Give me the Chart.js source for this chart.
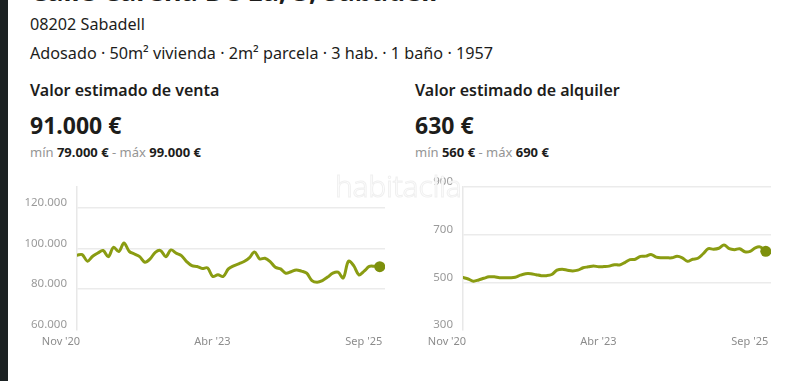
<!DOCTYPE html>
<html><head><meta charset="utf-8">
<script src="https://cdn.jsdelivr.net/npm/chart.js@4/dist/chart.umd.min.js"></script>
<style>
html,body{margin:0;padding:0;background:#fff;width:800px;height:381px;overflow:hidden;font-family:"Noto Sans",sans-serif;color:#1d1d1b;}
.abs{position:absolute;white-space:nowrap;}
#strip{position:absolute;left:0;top:0;width:8px;height:381px;background:#1c2223;}
.t1{font-size:16.2px;line-height:20px;}
.h{font-size:16px;font-weight:600;line-height:20px;}
.big{font-size:23px;font-weight:700;line-height:28px;}
.mm{font-size:13px;line-height:16px;color:#959595;}
.mm b{color:#1d1d1b;font-weight:700;}
#wm{position:absolute;left:335px;top:165px;font-size:30px;font-weight:300;color:#fff;-webkit-text-stroke:1px #f0f0f0;letter-spacing:-0.3px;z-index:5;pointer-events:none;}
canvas{position:absolute;}
</style></head><body>
<div id="strip"></div>
<div class="abs" style="left:30px;top:-24px;font-size:27px;font-weight:700;line-height:30px;">Calle Carena De La, 5, Sabadell</div>
<div class="abs t1" style="left:30px;top:14px;">08202 Sabadell</div>
<div class="abs t1" style="left:30px;top:43px;">Adosado · 50m² vivienda · 2m² parcela · 3 hab. · 1 baño · 1957</div>
<div class="abs h" style="left:30px;top:80px;">Valor estimado de venta</div>
<div class="abs big" style="left:30px;top:111px;">91.000 €</div>
<div class="abs mm" style="left:30px;top:144px;">mín <b>79.000 €</b> - máx <b>99.000 €</b></div>
<div class="abs h" style="left:415px;top:80px;">Valor estimado de alquiler</div>
<div class="abs big" style="left:415px;top:111px;">630 €</div>
<div class="abs mm" style="left:415px;top:144px;">mín <b>560 €</b> - máx <b>690 €</b></div>
<canvas id="c1" width="378" height="175" style="left:17px;top:175px;width:378px;height:175px;"></canvas>
<canvas id="c2" width="378" height="175" style="left:403px;top:175px;width:378px;height:175px;"></canvas>
<div id="wm">habitaclia</div>
<script>
// Monthly estimates, Nov 2020 .. Sep 2025 (59 months)
const saleValues = [96600,96900,93700,96100,97700,98900,95900,100500,98400,102600,98500,97200,95900,93200,94800,98000,98900,95900,99200,97600,96400,93500,91500,91100,90100,90400,86200,87000,86200,89900,91400,92400,93500,95300,98200,94800,95100,93500,90700,89900,87800,88500,89400,88800,87800,84200,83400,84200,85900,87800,88300,85500,93700,91500,87000,88800,91100,91200,91000];
const rentValues = [520,514,505,510,517,523,523,519,519,519,521,530,536,536,532,528,528,533,551,555,551,548,551,561,565,569,565,566,568,574,573,583,595,597,609,610,617,606,603,603,603,609,603,588,597,601,620,641,639,643,657,641,637,641,628,630,645,648,630];
const xTickLabels = ["Nov '20","Abr '23","Sep '25"];
const xTickIndex = [0,29,58];
const saleTicks = [60000,80000,100000,120000];
const rentTicks = [300,500,700,900];

const LINE = '#8a9c12';
const DOT = '#7d900c';
const fmt = v => v >= 1000 ? v.toLocaleString('de-DE') : String(v);

function makeChart(id, values, yTicks, yMin, yMax){
  const pts = values.map((v,i)=>({x:i,y:v}));
  const last = pts.length-1;
  return new Chart(document.getElementById(id), {
    type:'line',
    data:{datasets:[{data:pts,borderColor:LINE,borderWidth:3,tension:0.35,
      pointRadius:c=>c.dataIndex===last?5.5:0,pointHoverRadius:0,
      pointBackgroundColor:DOT,pointBorderColor:DOT,pointBorderWidth:0,fill:false,borderCapStyle:'round',borderJoinStyle:'round'}]},
    options:{
      responsive:false,animation:false,devicePixelRatio:1,
      layout:{padding:{top:12,right:10,left:0,bottom:0}},
      plugins:{legend:{display:false},tooltip:{enabled:false}},
      scales:{
        x:{type:'linear',min:0,max:59,
          afterBuildTicks:s=>{s.ticks=xTickIndex.map(v=>({value:v}));},
          afterFit:s=>{s.paddingLeft=0;s.paddingRight=0;s.height=20;},
          grid:{display:false,drawTicks:false},border:{display:false},
          ticks:{autoSkip:false,maxRotation:0,padding:5,labelOffset:-16,color:'#8c8c8c',
            font:{family:'"Noto Sans"',size:11},
            callback:(v)=>{const k=xTickIndex.indexOf(v);return k>=0?xTickLabels[k]:'';}}
        },
        y:{min:yMin,max:yMax,
          afterBuildTicks:s=>{s.ticks=yTicks.map(v=>({value:v}));},
          afterFit:s=>{s.width=60;s.paddingTop=0;s.paddingBottom=0;},
          grid:{drawTicks:false,color:c=>c.tick&&c.tick.value===yMin?'rgba(0,0,0,0)':'#ebebeb',lineWidth:1.5},
          border:{display:true,color:'#e8e8e8',width:1.5},
          ticks:{padding:10,labelOffset:-5,color:'#9a9a9a',font:{family:'"Noto Sans"',size:11.5},
            callback:v=>fmt(v)}
        }
      }
    }
  });
}
makeChart('c1', saleValues, saleTicks, 60000, 130000);
makeChart('c2', rentValues, rentTicks, 300, 900);
</script>
</body></html>
